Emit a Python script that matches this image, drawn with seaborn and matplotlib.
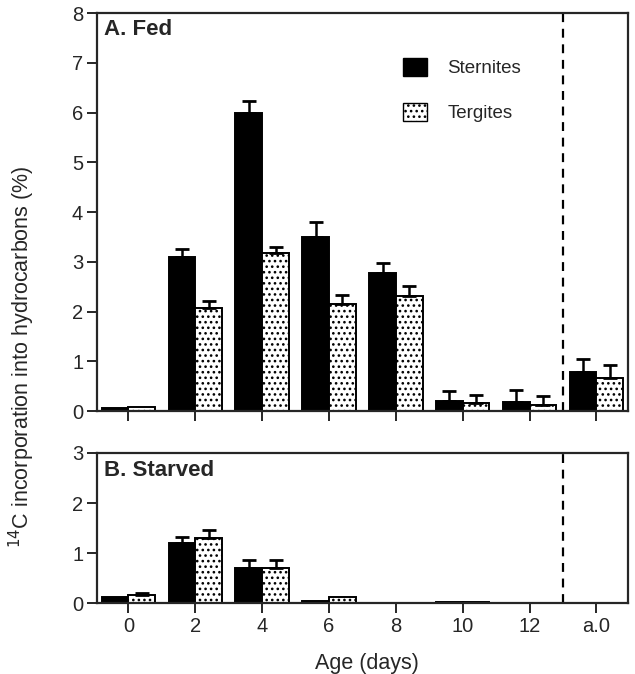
import numpy as np
import pandas as pd
import matplotlib
matplotlib.use("Agg")
import matplotlib.pyplot as plt
from matplotlib.patches import Patch
import seaborn as sns

# Age categories (days after emergence; "a.0" = adults at day 0)
ages = ["0", "2", "4", "6", "8", "10", "12", "a.0"]

# A. Fed insects: mean 14C incorporation (%) and SE
fed_sternites = [0.07, 3.10, 6.00, 3.50, 2.78, 0.20, 0.18, 0.78]
fed_sternites_se = [0.00, 0.16, 0.23, 0.30, 0.20, 0.20, 0.24, 0.26]
fed_tergites = [0.08, 2.08, 3.18, 2.16, 2.32, 0.17, 0.13, 0.67]
fed_tergites_se = [0.00, 0.13, 0.11, 0.18, 0.19, 0.16, 0.18, 0.26]

# B. Starved insects
starved_sternites = [0.13, 1.20, 0.70, 0.05, 0.01, 0.02, 0.01, 0.00]
starved_sternites_se = [0.00, 0.12, 0.16, 0.00, 0.00, 0.00, 0.00, 0.00]
starved_tergites = [0.17, 1.30, 0.70, 0.12, 0.01, 0.02, 0.01, 0.00]
starved_tergites_se = [0.03, 0.16, 0.16, 0.00, 0.00, 0.00, 0.00, 0.00]

parts = ["Sternites", "Tergites"]

sns.set_style("ticks")
plt.rcParams["font.family"] = ["Liberation Sans", "DejaVu Sans"]
plt.rcParams["hatch.linewidth"] = 1.1
plt.rcParams["hatch.color"] = "black"

fig = plt.figure(figsize=(6.35, 6.74), dpi=100)
ax_a = fig.add_axes([0.1528, 0.3902, 0.836, 0.5905])
ax_b = fig.add_axes([0.1528, 0.1053, 0.836, 0.2226])


def long_table(st, tg):
    return pd.DataFrame({
        "age": ages * 2,
        "value": list(st) + list(tg),
        "part": ["Sternites"] * len(ages) + ["Tergites"] * len(ages),
    })


def draw_panel(ax, st, st_se, tg, tg_se, ymax, title, title_y):
    df = long_table(st, tg)
    sns.barplot(data=df, x="age", y="value", hue="part", order=ages,
                hue_order=parts, palette={"Sternites": "black", "Tergites": "white"},
                edgecolor="black", linewidth=1.4, width=0.8, errorbar=None,
                legend=False, ax=ax, zorder=2)
    # dotted fill for tergites
    for bar in ax.containers[1]:
        bar.set_hatch("...")
    # upward-only SE bars
    for cont, se in zip(ax.containers, [st_se, tg_se]):
        xs, ys, errs = [], [], []
        for bar, e in zip(cont, se):
            if e > 0:
                xs.append(bar.get_x() + bar.get_width() / 2)
                ys.append(bar.get_height())
                errs.append(e)
        if xs:
            ax.errorbar(xs, ys, yerr=[np.zeros(len(errs)), errs], fmt="none",
                        ecolor="black", elinewidth=1.8, capsize=5, capthick=2.0,
                        zorder=3)
    ax.axvline(6.5, color="black", lw=1.6, ls=(0, (4, 3)), zorder=1)
    ax.set_xlim(-0.47, 7.47)
    ax.set_ylim(0, ymax)
    ax.set_yticks(range(0, ymax + 1))
    ax.set_xlabel("")
    ax.set_ylabel("")
    for s in ax.spines.values():
        s.set_linewidth(1.6)
        s.set_visible(True)
    ax.tick_params(direction="out", length=7, width=1.4, labelsize=14.5, pad=3)
    ax.text(0.014, title_y, title, transform=ax.transAxes,
            ha="left", va="top", fontsize=16, fontweight="bold")


draw_panel(ax_a, fed_sternites, fed_sternites_se, fed_tergites, fed_tergites_se,
           8, "A. Fed", 0.985)
draw_panel(ax_b, starved_sternites, starved_sternites_se, starved_tergites,
           starved_tergites_se, 3, "B. Starved", 0.955)
ax_a.set_xticklabels([])
ax_b.set_xticklabels(ages)

handles = [Patch(facecolor="black", edgecolor="black", label="Sternites"),
           Patch(facecolor="white", edgecolor="black", hatch="...", label="Tergites")]
ax_a.legend(handles=handles, loc="upper left", bbox_to_anchor=(0.545, 0.93),
            frameon=False, fontsize=13.5, handlelength=1.25, handleheight=1.15,
            labelspacing=1.35, handletextpad=1.1)

fig.text(0.035, 1 - 357 / 674, r"$^{14}$C incorporation into hydrocarbons (%)",
         rotation=90, ha="center", va="center", fontsize=15.5)
fig.text(0.578, 1 - 663 / 674, "Age (days)", ha="center", va="center", fontsize=15.5)

fig.savefig("out.png", dpi=100)
